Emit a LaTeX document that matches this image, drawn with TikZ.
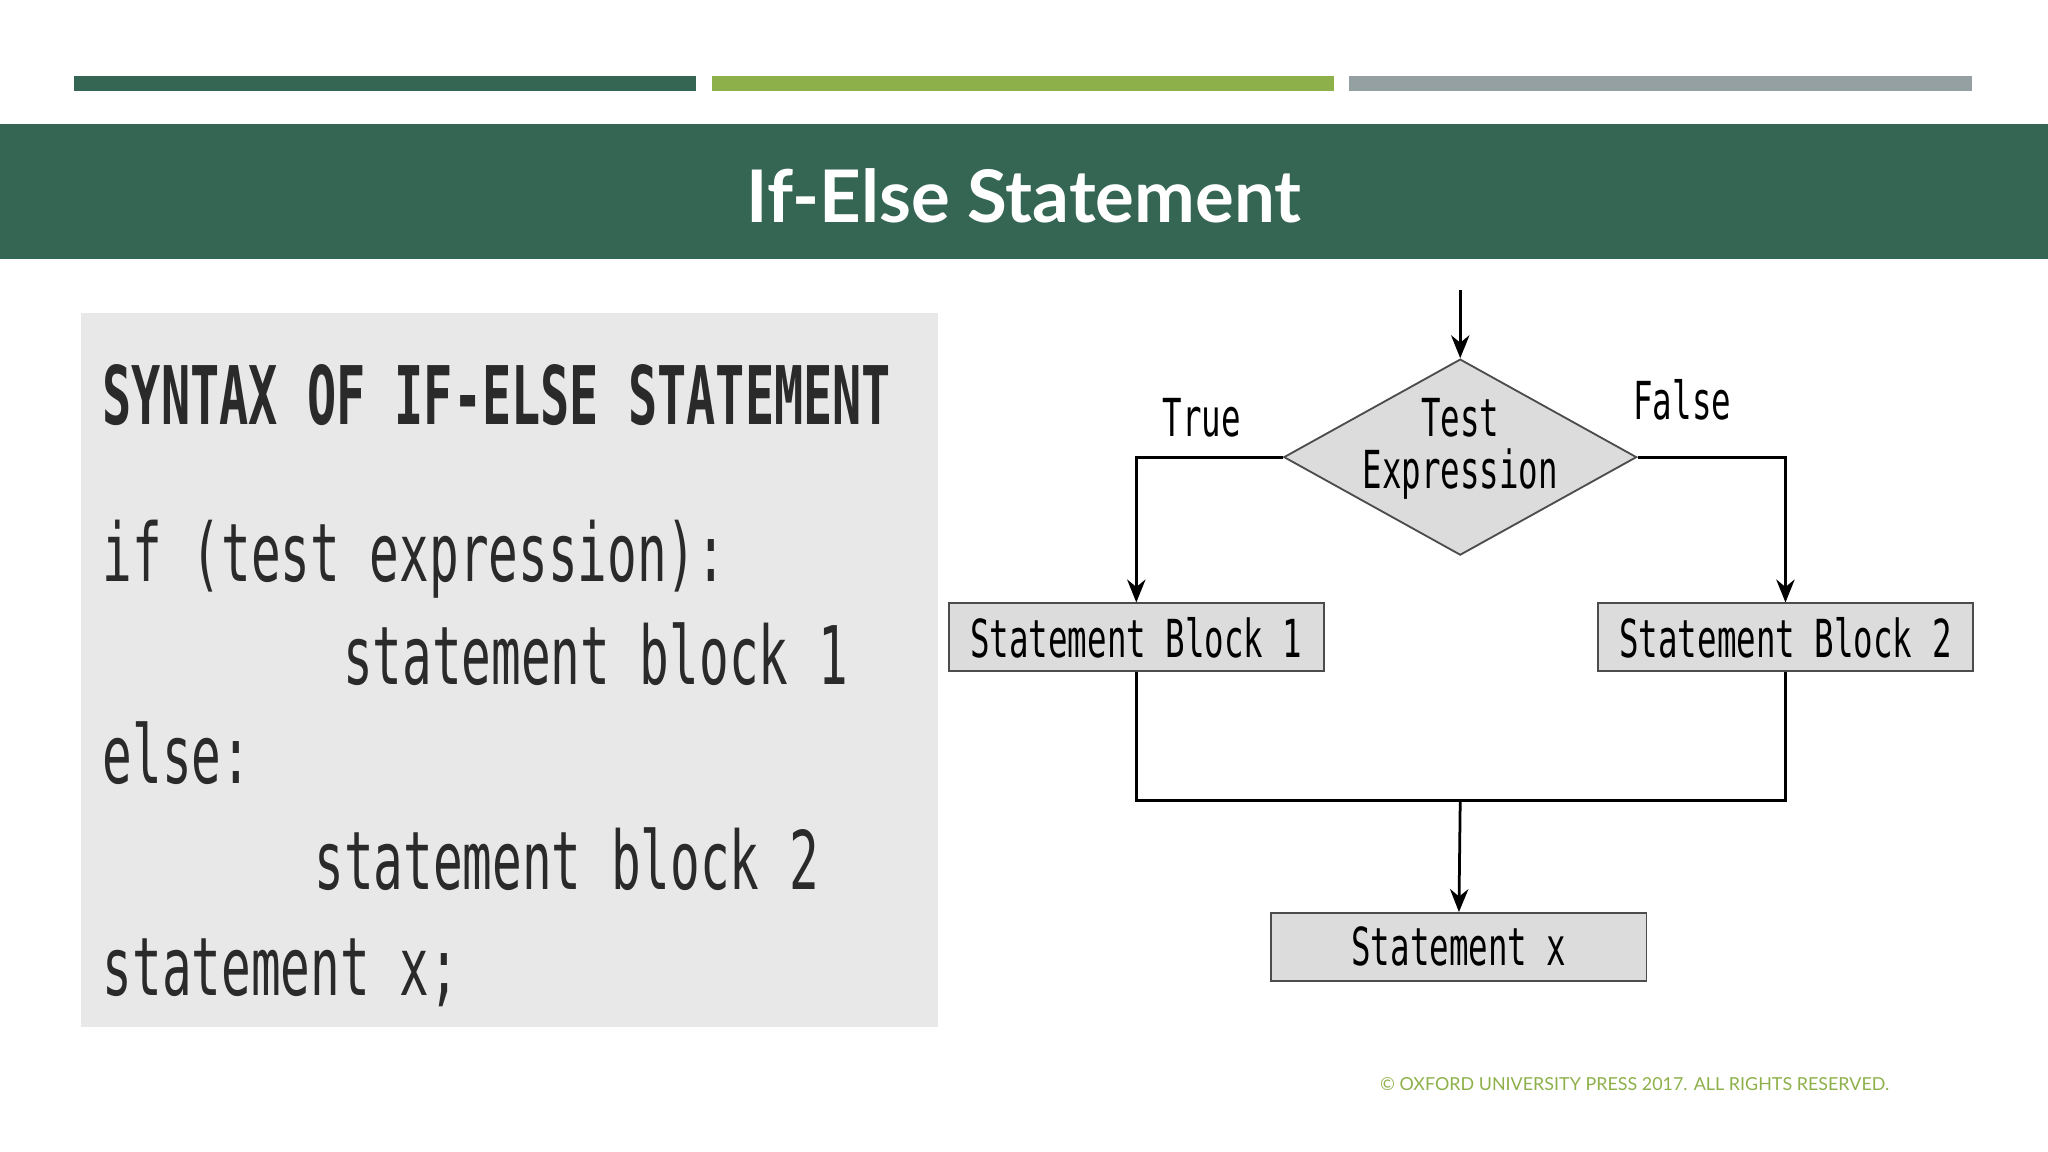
\documentclass[tikz,border=0pt]{standalone}
\usepackage{fontspec}
\usepackage{graphicx}
\setmainfont{Lato}
\newfontfamily\codefont{DejaVu Sans Mono}
\usetikzlibrary{shapes.geometric,arrows.meta}
\definecolor{dkgreen}{HTML}{356654}
\definecolor{ltgreen}{HTML}{8DB04A}
\definecolor{bargrey}{HTML}{95A0A3}
\definecolor{boxgrey}{HTML}{E8E8E8}
\definecolor{nodegrey}{HTML}{DCDCDC}
\definecolor{codetxt}{HTML}{2A2A2A}
\newcommand{\cd}[1]{\scalebox{0.61}[1]{#1}}
\newcommand{\fd}[1]{\scalebox{0.62}[1]{#1}}
\tikzset{
  codeline/.style={anchor=base west,inner sep=0,text=codetxt,font=\codefont\fontsize{17.6pt}{20pt}\selectfont},
  blockbox/.style={draw=black!70,fill=nodegrey,minimum width=2.87cm,minimum height=0.52cm,inner sep=0,font=\codefont\fontsize{11.4pt}{13pt}\selectfont},
  flowlbl/.style={inner sep=0,font=\codefont\fontsize{11.4pt}{13pt}\selectfont},
  conn/.style={draw=black,line width=0.6pt},
  arr/.style={conn,-{Stealth[length=5pt,width=4pt]}}
}
\begin{document}
\begin{tikzpicture}[x=0.01cm,y=-0.01cm]
\useasboundingbox (0,0) rectangle (1568,882);
% top bars
\fill[dkgreen] (57,58) rectangle (533,70);
\fill[ltgreen] (545,58) rectangle (1021,70);
\fill[bargrey] (1033,58) rectangle (1510,70);
% banner
\fill[dkgreen] (0,95) rectangle (1568,198);
\node[text=white,font=\bfseries\fontsize{15.8pt}{18pt}\selectfont] (title) at (784,150) {If-Else Statement};
% code box
\fill[boxgrey] (62,240) rectangle (718,786);
\node[codeline,font=\codefont\bfseries\fontsize{17.6pt}{20pt}\selectfont] (c0) at (78,325) {\scalebox{0.6}[1]{SYNTAX OF IF-ELSE STATEMENT}};
\node[codeline] (c1) at (78,445) {\cd{if (test expression):}};
\node[codeline] (c2) at (262,524) {\cd{statement block 1}};
\node[codeline] (c3) at (78,600) {\cd{else:}};
\node[codeline] (c4) at (240,681) {\cd{statement block 2}};
\node[codeline] (c5) at (78,762) {\cd{statement x;}};
% flowchart
\coordinate (start) at (1118,222);
\node[diamond,draw=black!70,fill=nodegrey,minimum width=2.7cm,minimum height=1.5cm,inner sep=0,aspect=1.8] (dec) at (1118,350) {};
\node[flowlbl] (t1) at (1118,320) {\fd{Test}};
\node[flowlbl] (t2) at (1118,363) {\fd{Expression}};
\node[blockbox] (b1) at (870,488) {\fd{Statement Block 1}};
\node[blockbox] (b2) at (1367,488) {\fd{Statement Block 2}};
\node[blockbox] (bx) at (1117,725) {\fd{Statement x}};
\node[flowlbl] (tr) at (920,320) {\fd{True}};
\node[flowlbl] (fa) at (1288,306) {\fd{False}};
\coordinate (join) at (1118,613);
\draw[arr] (start) -- (dec.north);
\draw[arr] (dec.west) -| (b1.north);
\draw[arr] (dec.east) -| (b2.north);
\draw[conn] (b1.south) |- (join);
\draw[conn] (b2.south) |- (join);
\draw[arr] (join) -- (bx.north);
\node[anchor=east,text=ltgreen,inner sep=0,font=\fontsize{3.9pt}{5pt}\selectfont] (copy) at (1447,830) {© OXFORD UNIVERSITY PRESS 2017. ALL RIGHTS RESERVED.};
\end{tikzpicture}
\end{document}
